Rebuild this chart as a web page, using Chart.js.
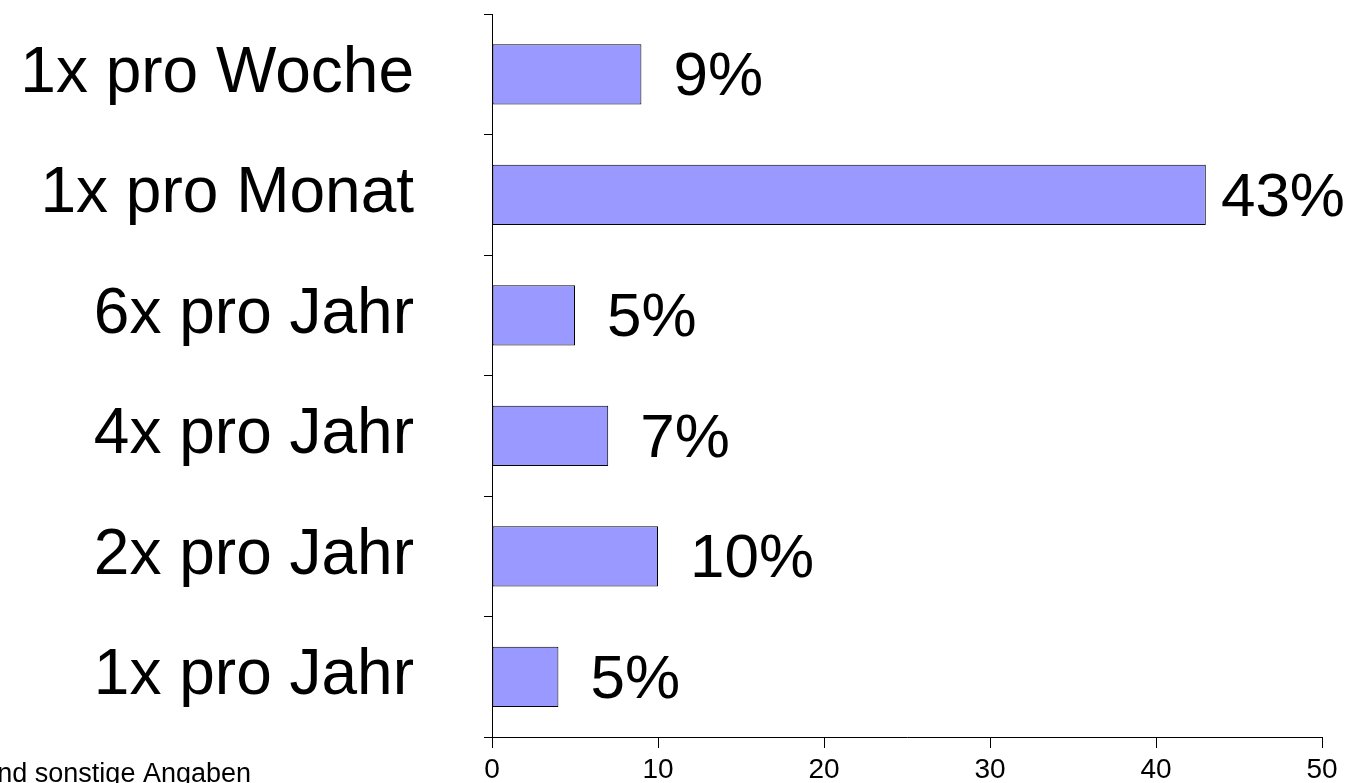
<!DOCTYPE html>
<html>
<head>
<meta charset="utf-8">
<script src="https://cdn.jsdelivr.net/npm/chart.js@4"></script>
<style>
  html, body { margin: 0; padding: 0; background: #fff; }
  #wrap { width: 1353px; height: 783px; }
</style>
</head>
<body>
<div id="wrap"><canvas id="grafico"></canvas></div>
<script>
const categorias = ['1x pro Woche', '1x pro Monat', '6x pro Jahr', '4x pro Jahr', '2x pro Jahr', '1x pro Jahr'];
const valores = [9, 43, 5, 7, 10, 4];
const rotulos = ['9%', '43%', '5%', '7%', '10%', '5%'];
const ticksX = [0, 10, 20, 30, 40, 50];
const rodape = 'und sonstige Angaben';

const fonte = '"Liberation Sans", Arial, sans-serif';

// escreve os percentuais ao lado das barras e o texto do rodapé
const rotulosPlugin = {
    id: 'rotulos',
    afterDatasetsDraw(chart) {
        const ctx = chart.ctx;
        const meta = chart.getDatasetMeta(0);
        ctx.save();
        ctx.fillStyle = '#000';
        ctx.font = '62px ' + fonte;
        ctx.textAlign = 'left';
        ctx.textBaseline = 'middle';
        meta.data.forEach((bar, i) => {
            const largura = ctx.measureText(rotulos[i]).width;
            // não deixa o texto passar da borda do canvas
            const x = Math.min(bar.x + 32, chart.width - largura - 8);
            ctx.fillText(rotulos[i], x, bar.y + 4);
        });
        ctx.font = '27px ' + fonte;
        ctx.textAlign = 'right';
        ctx.textBaseline = 'alphabetic';
        ctx.fillText(rodape, 251, 782);
        ctx.restore();
    }
};

new Chart(document.getElementById('grafico'), {
    type: 'bar',
    data: {
        labels: categorias,
        datasets: [{
            data: valores,
            backgroundColor: '#9999ff',
            borderColor: '#000000',
            borderWidth: 1,
            borderSkipped: false,
            barPercentage: 0.5,
            categoryPercentage: 1
        }]
    },
    options: {
        indexAxis: 'y',
        responsive: true,
        maintainAspectRatio: false,
        animation: false,
        layout: { padding: { top: 14, right: 31, left: 0, bottom: 0 } },
        plugins: {
            legend: { display: false },
            tooltip: { enabled: false }
        },
        scales: {
            x: {
                min: 0,
                max: 50,
                afterBuildTicks(scale) {
                    scale.ticks = ticksX.map(v => ({ value: v }));
                },
                afterFit(scale) {
                    scale.height = 46;
                    scale.paddingLeft = 0;
                    scale.paddingRight = 0;
                },
                border: { display: true, color: '#000', width: 1 },
                grid: { drawOnChartArea: false, drawTicks: true, tickLength: 11, color: '#000' },
                ticks: { color: '#000', font: { family: fonte, size: 28 }, padding: 5, maxRotation: 0 }
            },
            y: {
                afterFit(scale) {
                    scale.width = 492;
                    scale.paddingTop = 0;
                    scale.paddingBottom = 0;
                },
                border: { display: true, color: '#000', width: 1 },
                grid: { drawOnChartArea: false, drawTicks: true, tickLength: 8, color: '#000', offset: true },
                ticks: { color: '#000', font: { family: fonte, size: 64 }, padding: 70 }
            }
        }
    },
    plugins: [rotulosPlugin]
});
</script>
</body>
</html>
